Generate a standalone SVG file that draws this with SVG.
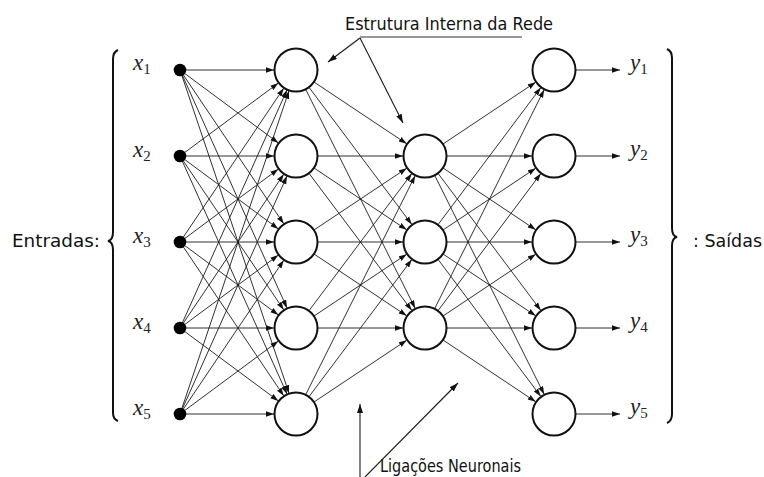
<svg xmlns="http://www.w3.org/2000/svg" width="764" height="477" viewBox="0 0 764 477">
<style>
.c{stroke:#1a1a1a;stroke-width:0.9;fill:none;marker-end:url(#ah)}
.a{stroke:#1a1a1a;stroke-width:1.1;fill:none;marker-end:url(#ah2)}
.n{fill:#fff;stroke:#111;stroke-width:2}
.d{fill:#000}
.br{fill:none;stroke:#111;stroke-width:2}
.v{font-family:"Liberation Serif",serif;font-style:italic;font-size:23px;fill:#222}
.s{font-family:"Liberation Serif",serif;font-size:15px;fill:#222}
.t{font-family:"DejaVu Sans",sans-serif;font-size:18px;fill:#111}
</style>
<defs>
<marker id="ah" markerUnits="userSpaceOnUse" markerWidth="10" markerHeight="8" refX="8" refY="3" orient="auto"><path d="M0,0.3 L8,3 L0,5.7 z" fill="#111"/></marker>
<marker id="ah2" markerUnits="userSpaceOnUse" markerWidth="12" markerHeight="8" refX="9" refY="3" orient="auto"><path d="M0,0 L9,3 L0,6 z" fill="#111"/></marker>
</defs>
<rect width="764" height="477" fill="#fff"/>
<g id="connectors">
<line class="c" x1="180" y1="70" x2="274" y2="70"/>
<line class="c" x1="180" y1="70" x2="278.33" y2="142.9"/>
<line class="c" x1="180" y1="70" x2="283.7" y2="223.76"/>
<line class="c" x1="180" y1="70" x2="286.98" y2="307.94"/>
<line class="c" x1="180" y1="70" x2="288.97" y2="393.15"/>
<line class="c" x1="180" y1="156" x2="278.33" y2="83.1"/>
<line class="c" x1="180" y1="156" x2="274" y2="156"/>
<line class="c" x1="180" y1="156" x2="278.33" y2="228.9"/>
<line class="c" x1="180" y1="156" x2="283.7" y2="309.76"/>
<line class="c" x1="180" y1="156" x2="286.98" y2="393.94"/>
<line class="c" x1="180" y1="242" x2="283.7" y2="88.24"/>
<line class="c" x1="180" y1="242" x2="278.33" y2="169.1"/>
<line class="c" x1="180" y1="242" x2="274" y2="242"/>
<line class="c" x1="180" y1="242" x2="278.33" y2="314.9"/>
<line class="c" x1="180" y1="242" x2="283.7" y2="395.76"/>
<line class="c" x1="180" y1="328" x2="286.98" y2="90.06"/>
<line class="c" x1="180" y1="328" x2="283.7" y2="174.24"/>
<line class="c" x1="180" y1="328" x2="278.33" y2="255.1"/>
<line class="c" x1="180" y1="328" x2="274" y2="328"/>
<line class="c" x1="180" y1="328" x2="278.33" y2="400.9"/>
<line class="c" x1="180" y1="414" x2="288.97" y2="90.85"/>
<line class="c" x1="180" y1="414" x2="286.98" y2="176.06"/>
<line class="c" x1="180" y1="414" x2="283.7" y2="260.24"/>
<line class="c" x1="180" y1="414" x2="278.33" y2="341.1"/>
<line class="c" x1="180" y1="414" x2="274" y2="414"/>

<line class="c" x1="296" y1="70" x2="406.7" y2="143.8"/>
<line class="c" x1="296" y1="70" x2="411.8" y2="224.4"/>
<line class="c" x1="296" y1="70" x2="415.16" y2="308.32"/>
<line class="c" x1="296" y1="156" x2="403" y2="156"/>
<line class="c" x1="296" y1="156" x2="406.7" y2="229.8"/>
<line class="c" x1="296" y1="156" x2="411.8" y2="310.4"/>
<line class="c" x1="296" y1="242" x2="406.7" y2="168.2"/>
<line class="c" x1="296" y1="242" x2="403" y2="242"/>
<line class="c" x1="296" y1="242" x2="406.7" y2="315.8"/>
<line class="c" x1="296" y1="328" x2="411.8" y2="173.6"/>
<line class="c" x1="296" y1="328" x2="406.7" y2="254.2"/>
<line class="c" x1="296" y1="328" x2="403" y2="328"/>
<line class="c" x1="296" y1="414" x2="415.16" y2="175.68"/>
<line class="c" x1="296" y1="414" x2="411.8" y2="259.6"/>
<line class="c" x1="296" y1="414" x2="406.7" y2="340.2"/>

<line class="c" x1="425" y1="156" x2="535.7" y2="82.2"/>
<line class="c" x1="425" y1="156" x2="532" y2="156"/>
<line class="c" x1="425" y1="156" x2="535.7" y2="229.8"/>
<line class="c" x1="425" y1="156" x2="540.8" y2="310.4"/>
<line class="c" x1="425" y1="156" x2="544.16" y2="394.32"/>
<line class="c" x1="425" y1="242" x2="540.8" y2="87.6"/>
<line class="c" x1="425" y1="242" x2="535.7" y2="168.2"/>
<line class="c" x1="425" y1="242" x2="532" y2="242"/>
<line class="c" x1="425" y1="242" x2="535.7" y2="315.8"/>
<line class="c" x1="425" y1="242" x2="540.8" y2="396.4"/>
<line class="c" x1="425" y1="328" x2="544.16" y2="89.68"/>
<line class="c" x1="425" y1="328" x2="540.8" y2="173.6"/>
<line class="c" x1="425" y1="328" x2="535.7" y2="254.2"/>
<line class="c" x1="425" y1="328" x2="532" y2="328"/>
<line class="c" x1="425" y1="328" x2="535.7" y2="401.8"/>

<line class="c" x1="576" y1="70" x2="620" y2="70"/>
<line class="c" x1="576" y1="156" x2="620" y2="156"/>
<line class="c" x1="576" y1="242" x2="620" y2="242"/>
<line class="c" x1="576" y1="328" x2="620" y2="328"/>
<line class="c" x1="576" y1="414" x2="620" y2="414"/>

<line x1="360" y1="37" x2="522" y2="37" stroke="#333" stroke-width="1.1"/>
<line class="a" x1="360" y1="38" x2="328" y2="62"/>
<line class="a" x1="360" y1="38" x2="403" y2="123"/>
<line class="a" x1="360" y1="477" x2="360" y2="404"/>
<line class="a" x1="365" y1="477" x2="458" y2="383"/>
</g>
<g id="inputs">
<circle class="d" cx="180" cy="70" r="6.3"/>
<circle class="d" cx="180" cy="156" r="6.3"/>
<circle class="d" cx="180" cy="242" r="6.3"/>
<circle class="d" cx="180" cy="328" r="6.3"/>
<circle class="d" cx="180" cy="414" r="6.3"/>
</g>
<g id="layer1">
<circle class="n" cx="296" cy="70" r="21.5"/>
<circle class="n" cx="296" cy="156" r="21.5"/>
<circle class="n" cx="296" cy="242" r="21.5"/>
<circle class="n" cx="296" cy="328" r="21.5"/>
<circle class="n" cx="296" cy="414" r="21.5"/>
</g>
<g id="layer2">
<circle class="n" cx="425" cy="156" r="21.5"/>
<circle class="n" cx="425" cy="242" r="21.5"/>
<circle class="n" cx="425" cy="328" r="21.5"/>
</g>
<g id="layer3">
<circle class="n" cx="554" cy="70" r="21.5"/>
<circle class="n" cx="554" cy="156" r="21.5"/>
<circle class="n" cx="554" cy="242" r="21.5"/>
<circle class="n" cx="554" cy="328" r="21.5"/>
<circle class="n" cx="554" cy="414" r="21.5"/>
</g>
<g id="input-labels">
<text class="v" x="133" y="70">x<tspan class="s" font-style="normal" dy="4">1</tspan></text>
<text class="v" x="133" y="157">x<tspan class="s" font-style="normal" dy="4">2</tspan></text>
<text class="v" x="133" y="243">x<tspan class="s" font-style="normal" dy="4">3</tspan></text>
<text class="v" x="133" y="329">x<tspan class="s" font-style="normal" dy="4">4</tspan></text>
<text class="v" x="133" y="415">x<tspan class="s" font-style="normal" dy="4">5</tspan></text>
</g>
<g id="output-labels">
<text class="v" x="630" y="70">y<tspan class="s" font-style="normal" dy="4">1</tspan></text>
<text class="v" x="630" y="156">y<tspan class="s" font-style="normal" dy="4">2</tspan></text>
<text class="v" x="630" y="242">y<tspan class="s" font-style="normal" dy="4">3</tspan></text>
<text class="v" x="630" y="328">y<tspan class="s" font-style="normal" dy="4">4</tspan></text>
<text class="v" x="630" y="414">y<tspan class="s" font-style="normal" dy="4">5</tspan></text>
</g>
<g id="braces">
<path class="br" d="M118,50 Q113,52 113,59 L113,232 Q113,240 108,241 Q113,242 113,250 L113,413 Q113,419 118,421"/>
<path class="br" d="M667,49 Q672,51 672,58 L672,228 Q672,236 677,237 Q672,238 672,246 L672,414 Q672,421 667,423"/>
</g>
<g id="titles">
<text class="t" x="12" y="247" textLength="88" lengthAdjust="spacingAndGlyphs">Entradas:</text>
<text class="t" x="693" y="247" textLength="69" lengthAdjust="spacingAndGlyphs">: Saídas</text>
<text class="t" x="345" y="30" textLength="208" lengthAdjust="spacingAndGlyphs">Estrutura Interna da Rede</text>
<text class="t" x="380" y="472" textLength="141" lengthAdjust="spacingAndGlyphs">Ligações Neuronais</text>
</g>
</svg>
